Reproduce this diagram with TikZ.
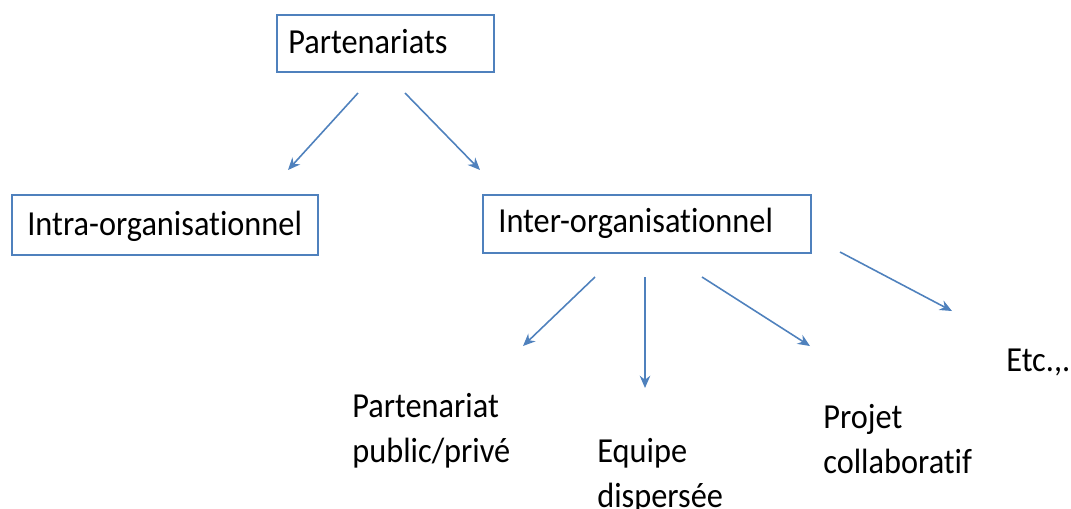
\documentclass[tikz,border=0pt]{standalone}
\usepackage{fontspec}
\setmainfont[Ligatures=NoCommon, FakeStretch=0.92]{Carlito}
\usetikzlibrary{arrows.meta}
\definecolor{officeblue}{RGB}{79,129,189}
\tikzset{
  boite/.style={draw=officeblue, line width=1.6pt},
  fleche/.style={draw=officeblue, line width=0.9pt, -{Stealth[length=7pt,width=6pt]}},
  etiquette/.style={font=\fontsize{20}{25.5}\selectfont, anchor=base west, inner sep=0pt, align=left},
}
\begin{document}
\begin{tikzpicture}[x=0.02cm, y=-0.02cm]
			%%%%% START %%%%%
			\useasboundingbox (0, 0) rectangle (1071, 508);
			
			% cadres
			\draw[boite] (277, 15) rectangle (494, 72);
			\node[etiquette] (part) at (288, 53) {Partenariats};
			
			\draw[boite] (12, 195) rectangle (318, 255);
			\node[etiquette] (intra) at (27, 235) {Intra-organisationnel};
			
			\draw[boite] (483, 195) rectangle (811, 253);
			\node[etiquette] (inter) at (498, 232) {Inter-organisationnel};
			
			% textes libres (ancre = ligne du bas)
			\node[etiquette] (ppp) at (352, 462) {Partenariat\\public/privé};
			\node[etiquette] (equipe) at (597, 507) {Equipe\\dispersée};
			\node[etiquette] (projet) at (823, 473) {Projet\\collaboratif};
			\node[etiquette] (etc) at (1006, 371) {Etc.,.};
			
			% extremites des fleches
			\coordinate (partG) at (358, 93);
			\coordinate (partD) at (405, 93);
			\coordinate (versIntra) at (288, 170);
			\coordinate (versInter) at (480, 170);
			
			\coordinate (interA) at (595, 277);
			\coordinate (interB) at (645, 277);
			\coordinate (interC) at (702, 277);
			\coordinate (interD) at (840, 252);
			\coordinate (versPpp) at (523, 346);
			\coordinate (versEquipe) at (645, 388);
			\coordinate (versProjet) at (810, 346);
			\coordinate (versEtc) at (952, 311);
			
			\draw[fleche] (partG) -- (versIntra);
			\draw[fleche] (partD) -- (versInter);
			\draw[fleche] (interA) -- (versPpp);
			\draw[fleche] (interB) -- (versEquipe);
			\draw[fleche] (interC) -- (versProjet);
			\draw[fleche] (interD) -- (versEtc);
			%%%%% END %%%%%
\end{tikzpicture}
\end{document}
